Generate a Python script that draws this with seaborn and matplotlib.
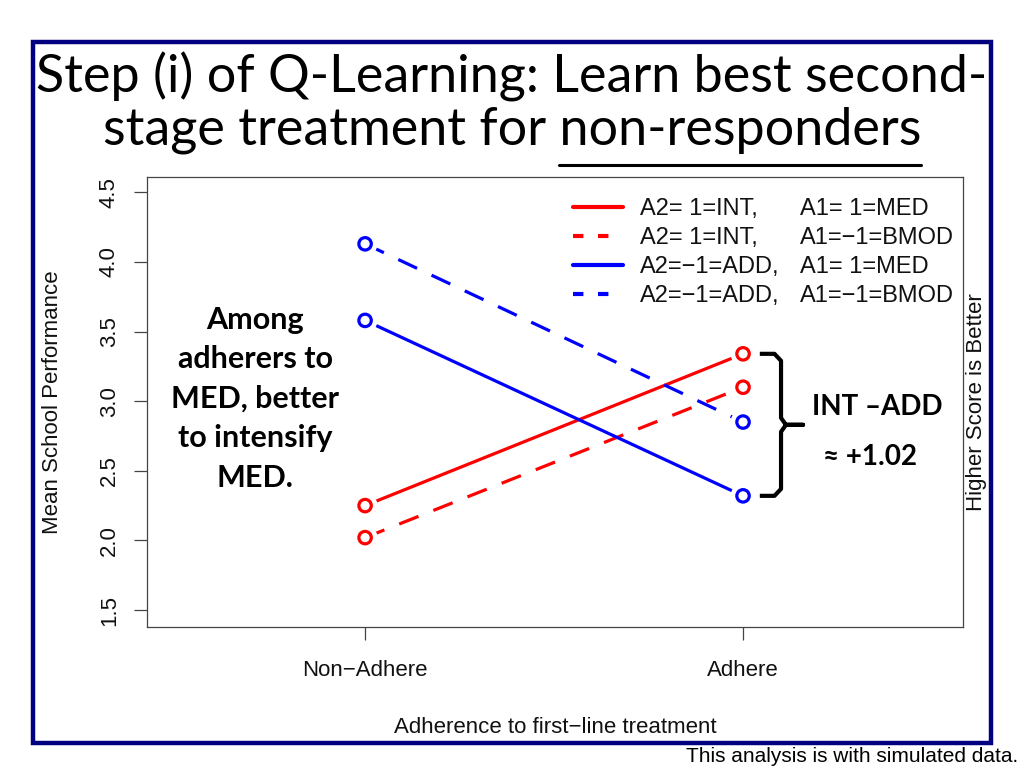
import numpy as np
import pandas as pd
import seaborn as sns
import matplotlib.pyplot as plt
import matplotlib.patheffects as pe
from matplotlib.lines import Line2D
from matplotlib.patches import Rectangle


adherence = ['Non\u2212Adhere', 'Adhere']
a2_levels = ['INT', 'ADD']
a1_levels = ['MED', 'BMOD']

# mean school performance (Non-Adhere, Adhere)
int_med = [2.25, 3.34]
int_bmod = [2.02, 3.10]
add_med = [3.58, 2.32]
add_bmod = [4.13, 2.85]

legend_a2 = ['A2= 1=INT,', 'A2= 1=INT,', 'A2=\u22121=ADD,', 'A2=\u22121=ADD,']
legend_a1 = ['A1= 1=MED', 'A1=\u22121=BMOD', 'A1= 1=MED', 'A1=\u22121=BMOD']

W, H = 1024, 768


def fx(x):
    return x / W


def fy(y):
    return 1 - y / H


def make_frame():
    rows = []
    series = {('INT', 'MED'): int_med, ('INT', 'BMOD'): int_bmod,
              ('ADD', 'MED'): add_med, ('ADD', 'BMOD'): add_bmod}
    for (a2, a1), vals in series.items():
        for i, v in enumerate(vals):
            rows.append({'pos': i, 'A2': a2, 'A1': a1, 'value': v})
    return pd.DataFrame(rows)


sns.set_style('ticks')
plt.rcParams['font.family'] = ['Liberation Sans', 'DejaVu Sans']
plt.rcParams['text.color'] = 'black'
calibri = ['Lato', 'DejaVu Sans']
ink = '#111111'

df = make_frame()
palette = {'INT': '#ff0000', 'ADD': '#0000ff'}
dashes = {'MED': '', 'BMOD': (6.5, 5)}

fig = plt.figure(figsize=(W / 100, H / 100), dpi=100)
ax = fig.add_axes([fx(147), fy(627), fx(963) - fx(147), fy(177) - fy(627)])

sns.lineplot(data=df, x='pos', y='value', hue='A2', style='A1', palette=palette,
             dashes=dashes, linewidth=2.3, legend=False, sort=False, ax=ax)
sns.scatterplot(data=df, x='pos', y='value', hue='A2', palette=palette, s=80,
                linewidth=2.3, legend=False, zorder=4, ax=ax)
pts = ax.collections[-1]
pts.set_edgecolors(pts.get_facecolors())
pts.set_facecolors('white')
pts.set_path_effects([pe.withStroke(linewidth=9, foreground='white')])

ax.set_xlim(-0.577, 1.582)
ax.set_ylim(1.378, 4.61)
ax.set_xticks([0, 1])
ax.set_xticklabels(adherence)
yt = np.arange(1.5, 4.51, 0.5)
ax.set_yticks(yt)
ax.set_yticklabels([f'{v:.1f}' for v in yt], rotation=90, va='center')
for s in ax.spines.values():
    s.set_visible(True)
    s.set_color('#444444')
    s.set_linewidth(0.9)
ax.tick_params(axis='both', direction='out', length=9.5, width=0.9,
               color='#444444', labelsize=16, labelcolor=ink)
ax.tick_params(axis='x', pad=14)
ax.tick_params(axis='y', pad=10)
ax.set_xlabel('Adherence to first\u2212line treatment', fontsize=16,
              color=ink, labelpad=26)
ax.set_ylabel('Mean School Performance', fontsize=16, color=ink,
              labelpad=26)
ax.text(1.016, 0.5, 'Higher Score is Better', transform=ax.transAxes,
        rotation=90, ha='center', va='center', fontsize=16, color=ink)

# legend: first column via legend, second column aligned to its rows
handles = []
for a2, a1 in [('INT', 'MED'), ('INT', 'BMOD'), ('ADD', 'MED'), ('ADD', 'BMOD')]:
    h = Line2D([], [], color=palette[a2], linewidth=3)
    if dashes[a1]:
        h.set_dashes((2.5, 3.5))
    handles.append(h)
leg = ax.legend(handles, legend_a2, loc='upper left',
                bbox_to_anchor=(fx(573), fy(198)), bbox_transform=fig.transFigure,
                frameon=False, fontsize=17, handlelength=2.1, handletextpad=0.75,
                labelspacing=0.3, borderpad=0, borderaxespad=0)
for t in leg.get_texts():
    t.set_color(ink)

# annotation text
ax.text(fx(255), fy(399), 'Among\nadherers to\nMED, better\nto intensify\nMED.',
        transform=fig.transFigure, ha='center', va='center', fontsize=22,
        fontweight='bold', family=calibri, linespacing=1.5)

# bracket from INT/MED to ADD/MED at Adhere
top, bot = int_med[1], add_med[1]
mid = (top + bot) / 2
tr = ax.get_yaxis_transform()
xa, xb, xc = 0.751, 0.777, 0.804
r = 0.05
bx = [xa, xb - 0.008, xb, xb, xb + 0.006, xc, xb + 0.006, xb, xb, xb - 0.008, xa]
by = [top, top, top - r, mid + r, mid, mid, mid, mid - r, bot + r, bot, bot]
ax.plot(bx, by, color='black', linewidth=3, transform=tr, clip_on=False,
        solid_joinstyle='round', solid_capstyle='butt')
ax.text(fx(877), fy(407), 'INT \u2013ADD', transform=fig.transFigure,
        ha='center', va='center', fontsize=20, fontweight='bold', family=calibri)
ax.text(fx(870), fy(457), f'\u2248 +{top - bot:.2f}', transform=fig.transFigure,
        ha='center', va='center', fontsize=20, fontweight='bold', family=calibri)

# slide frame and title
fig.patches.append(Rectangle((fx(33), fy(743)), fx(991) - fx(33), fy(42) - fy(743),
                             transform=fig.transFigure, fill=False,
                             edgecolor='#000080', linewidth=3.2))
fig.text(fx(512), fy(92), 'Step (i) of Q-Learning: Learn best second-', ha='center',
         va='baseline', fontsize=37.5, family=calibri)
line2 = fig.text(fx(512), fy(145), 'stage treatment for non-responders', ha='center',
                 va='baseline', fontsize=37.5, family=calibri)
fig.text(fx(1018), fy(757), 'This analysis is with simulated data.', ha='right',
         va='center', fontsize=15)

fig.canvas.draw()
renderer = fig.canvas.get_renderer()
inv = fig.transFigure.inverted()
for t, s in zip(leg.get_texts(), legend_a1):
    bb = t.get_window_extent(renderer)
    x0, y0 = inv.transform((bb.x0, bb.y0))
    fig.text(fx(800), y0, s, ha='left', va='bottom', fontsize=17, color=ink)

bb2 = line2.get_window_extent(renderer)
probe = fig.text(0, 0, 'non-responders', fontsize=37.5, family=calibri)
wpx = probe.get_window_extent(renderer).width
probe.remove()
u0 = inv.transform((bb2.x1 - wpx, 0))[0]
u1 = inv.transform((bb2.x1, 0))[0]
fig.add_artist(Line2D([u0, u1], [fy(165), fy(165)], color='black', linewidth=2.2,
                      transform=fig.transFigure))

fig.savefig('out.png', dpi=100)
